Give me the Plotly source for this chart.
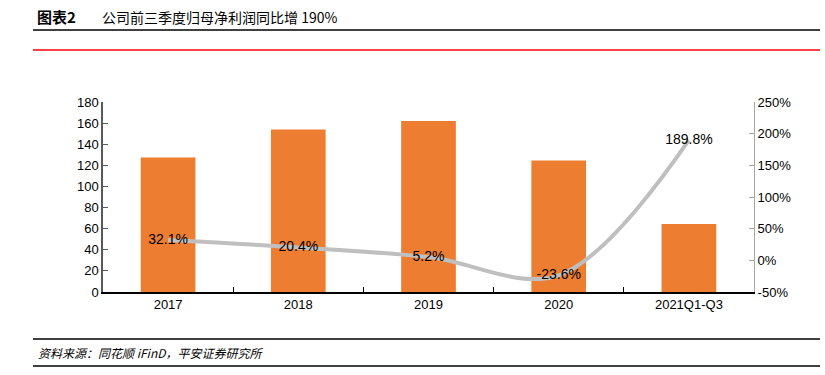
import plotly.graph_objects as go

categories = ["2017", "2018", "2019", "2020", "2021Q1-Q3"]
profit = [127.5, 154, 162, 124.5, 64.5]
yoy = [32.1, 20.4, 5.2, -23.6, 189.8]
yoy_labels = ["32.1%", "20.4%", "5.2%", "-23.6%", "189.8%"]
left_ticks = list(range(0, 181, 20))
right_ticks = list(range(-50, 251, 50))
right_tick_labels = [f"{v}%" for v in right_ticks]

FONT_NUM = "Liberation Sans, Arial, sans-serif"
FONT_CJK = "Noto Sans CJK SC, sans-serif"

fig = go.Figure()
fig.add_trace(go.Bar(
    x=categories, y=profit, name="归母净利润（亿元）",
    marker=dict(color="#ED7D31", line=dict(width=0)), width=0.42,
))
fig.add_trace(go.Scatter(
    x=categories, y=yoy, name="同比", yaxis="y2",
    mode="lines+text", text=yoy_labels, textposition="middle center",
    textfont=dict(family=FONT_NUM, size=14, color="#000000"),
    line=dict(color="#BFBFBF", width=4, shape="spline", smoothing=1.0),
))

W, H = 825, 375
L, R, T, B = 103, 71, 102, 83
PW, PH = W - L - R, H - T - B


def px(x):
    return (x - L) / PW


def py(y):
    return (H - B - y) / PH


def hline(y, color="#000000"):
    return dict(type="line", xref="paper", yref="paper", layer="above",
                x0=px(33), x1=px(820), y0=py(y), y1=py(y),
                line=dict(color=color, width=1.5))


fig.update_layout(
    width=W, height=H,
    margin=dict(l=L, r=R, t=T, b=B, pad=0, autoexpand=False),
    paper_bgcolor="white", plot_bgcolor="white",
    font=dict(family=FONT_NUM, size=13, color="#000000"),
    showlegend=False,
    xaxis=dict(
        showline=True, linecolor="#000000", linewidth=1.5,
        ticks="inside", tickson="boundaries", ticklen=5, tickcolor="#000000",
        showgrid=False, tickfont=dict(family=FONT_NUM, size=13),
    ),
    yaxis=dict(
        range=[0, 180], tickvals=left_ticks, showgrid=False, zeroline=False,
        showline=True, linecolor="#595959", linewidth=1.5,
        ticks="inside", ticklen=5, tickcolor="#595959",
        tickfont=dict(family=FONT_NUM, size=13),
    ),
    yaxis2=dict(
        range=[-50, 250], tickvals=right_ticks, ticktext=right_tick_labels,
        overlaying="y", side="right", showgrid=False, zeroline=False,
        showline=True, linecolor="#A6A6A6", linewidth=1,
        ticks="inside", ticklen=5, tickcolor="#A6A6A6",
        tickfont=dict(family=FONT_NUM, size=13),
    ),
    shapes=[hline(30), hline(50, "#FF0000"), hline(339), hline(366)],
    annotations=[
        dict(text="<b>图表2</b>", xref="paper", yref="paper",
             x=px(35), y=py(17),
             xanchor="left", yanchor="middle", showarrow=False,
             font=dict(family=FONT_CJK, size=15, color="#000000")),
        dict(text="公司前三季度归母净利润同比增 190%", xref="paper", yref="paper",
             x=px(100), y=py(17),
             xanchor="left", yanchor="middle", showarrow=False,
             font=dict(family=FONT_CJK, size=14, color="#000000")),
        dict(text="<i>资料来源：同花顺 iFinD，平安证券研究所</i>", xref="paper", yref="paper",
             x=px(36), y=py(352),
             xanchor="left", yanchor="middle", showarrow=False,
             font=dict(family=FONT_CJK, size=12, color="#000000")),
    ],
)

fig.write_html("out.html", config={"displayModeBar": False},
               post_script="document.body.style.margin='0';document.body.style.padding='0';")
